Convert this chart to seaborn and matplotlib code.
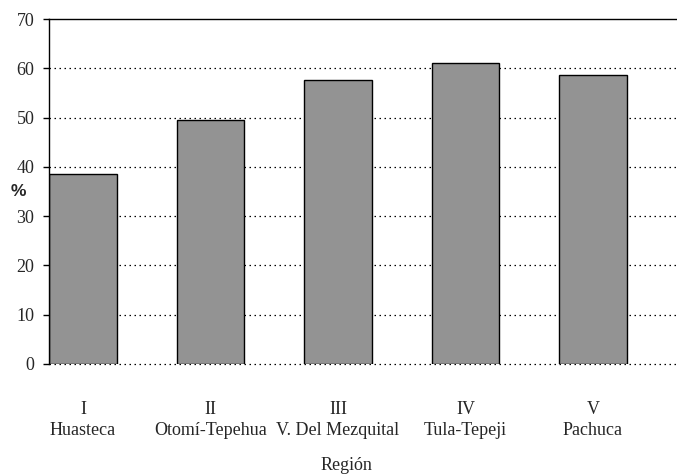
import matplotlib
matplotlib.use("Agg")
import matplotlib.pyplot as plt
import seaborn as sns
import pandas as pd

numerals = ["I", "II", "III", "IV", "V"]
regions = ["Huasteca", "Otomí-Tepehua", "V. Del Mezquital", "Tula-Tepeji", "Pachuca"]
values = [38.5, 49.5, 57.7, 61.1, 58.6]
yticks = [0, 10, 20, 30, 40, 50, 60, 70]

labels = [f"{n}\n{r}" for n, r in zip(numerals, regions)]
df = pd.DataFrame({"region": labels, "pct": values})

sns.set_theme(style="white")
plt.rcParams["font.family"] = ["Liberation Serif", "DejaVu Serif"]

fig = plt.figure(figsize=(6.77, 4.76), dpi=100)
W, H = 677, 476
ax = fig.add_axes([49 / W, (H - 364) / H, 628 / W, 345 / H])

sns.barplot(data=df, x="region", y="pct", ax=ax, color="#939393",
            edgecolor="black", linewidth=1.0, width=0.533, saturation=1)

ax.set_xlim(-0.2667, 4.659)
ax.set_ylim(0, 70)
ax.set_yticks(yticks)
ax.set_yticklabels([str(t) for t in yticks])

for t in yticks[:-1]:
    ax.axhline(t, color="black", linewidth=0.9, linestyle=(0, (1.2, 2.8)),
               zorder=0.5, clip_on=False)

for s in ["right", "bottom"]:
    ax.spines[s].set_visible(False)
ax.spines["left"].set_color("black")
ax.spines["left"].set_linewidth(1.0)
ax.spines["top"].set_color("black")
ax.spines["top"].set_linewidth(1.0)

ax.tick_params(axis="y", which="major", left=True, length=4.5, width=1, color="black",
               pad=6, labelsize=13)
ax.tick_params(axis="x", which="major", bottom=False, pad=21, labelsize=13)
for lbl in ax.get_xticklabels():
    lbl.set_linespacing(1.3)

ax.set_xlabel("")
ax.set_ylabel("")
fig.text(18 / W, 1 - 192 / H, "%", fontsize=12.5, fontweight="bold",
         family=["Liberation Sans"], ha="center", va="center")
fig.text(346 / W, 1 - 466 / H, "Región", fontsize=13, ha="center", va="center")

fig.savefig("out.png", dpi=100)
